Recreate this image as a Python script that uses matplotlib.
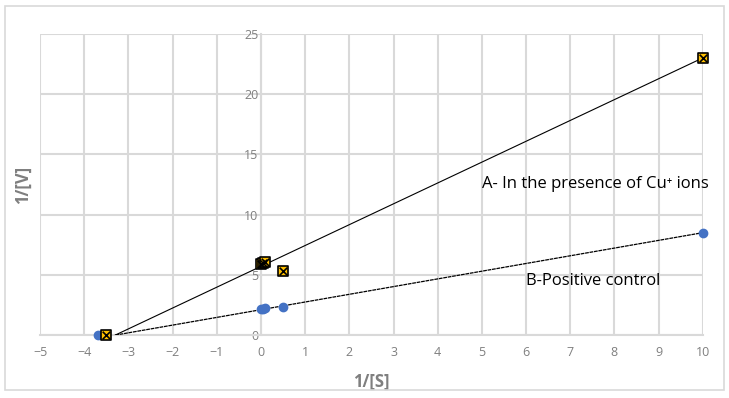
import matplotlib
matplotlib.use("Agg")
import matplotlib.pyplot as plt
from matplotlib.patches import Rectangle

# Data
xA = [-3.5, 0.0, 0.05, 0.1, 0.5, 10.0]
yA = [0.0, 5.9, 6.0, 6.1, 5.3, 23.0]
xB = [-3.7, 0.0, 0.05, 0.1, 0.5, 10.0]
yB = [0.0, 2.2, 2.2, 2.25, 2.3, 8.5]
trend_x = [-3.3, 10.0]
trendA_y = [0.0, 23.0]
trendB_y = [0.0, 8.5]
xticks = list(range(-5, 11))
yticks = [0, 5, 10, 15, 20, 25]
labelA = "A- In the presence of Cu\u207a ions"
labelB = "B-Positive control"

plt.rcParams['font.family'] = ['Open Sans', 'DejaVu Sans']

fig = plt.figure(figsize=(7.29, 3.98), dpi=100)
fig.patches.append(Rectangle((0.007, 0.02), 0.986, 0.965, transform=fig.transFigure,
                             fill=False, edgecolor='#d9d9d9', linewidth=1.2))
ax = fig.add_axes([0.055, 0.158, 0.909, 0.757])

ax.set_xlim(-5, 10)
ax.set_ylim(0, 25)
ax.set_xticks(xticks)
ax.set_yticks(yticks)
ax.grid(True, color='#d9d9d9', linewidth=1.5)
ax.set_axisbelow(True)

for s in ['top', 'right', 'left']:
    ax.spines[s].set_visible(False)
ax.spines['bottom'].set_color('#d9d9d9')
ax.spines['bottom'].set_linewidth(1.5)

# y axis at x=0
ax.spines['left'].set_visible(True)
ax.spines['left'].set_position(('data', 0))
ax.spines['left'].set_color('#d9d9d9')
ax.spines['left'].set_linewidth(1.5)

ax.tick_params(axis='both', length=0, labelcolor='#7f7f7f', labelsize=9)
ax.tick_params(axis='y', pad=2)
ax.tick_params(axis='x', pad=8)

ax.plot(trend_x, trendA_y, color='black', linewidth=0.8, zorder=3)
ax.plot(trend_x, trendB_y, color='black', linewidth=0.9, linestyle=(0, (3, 0.6)), zorder=3)

ax.scatter(xB, yB, s=36, color='#4472c4', zorder=4, clip_on=False)
ax.scatter(xA, yA, s=55, marker='s', color='#ffc000', edgecolor='black', linewidth=1.2,
           zorder=5, clip_on=False)
ax.scatter(xA, yA, s=30, marker='x', color='black', linewidth=1.2, zorder=6, clip_on=False)

ax.text(5.0, 12.5, labelA, fontsize=12, color='black', va='center', ha='left')
ax.text(6.0, 4.5, labelB, fontsize=12, color='black', va='center', ha='left')

ax.set_xlabel('1/[S]', color='#7f7f7f', fontsize=12, fontweight='bold')
ax.xaxis.set_label_coords(0.5, -0.125, transform=ax.transAxes)
ax.set_ylabel('1/[V]', color='#7f7f7f', fontsize=12, fontweight='bold')
ax.yaxis.set_label_coords(-0.012, 0.5, transform=ax.transAxes)

fig.savefig('out.png', dpi=100)
